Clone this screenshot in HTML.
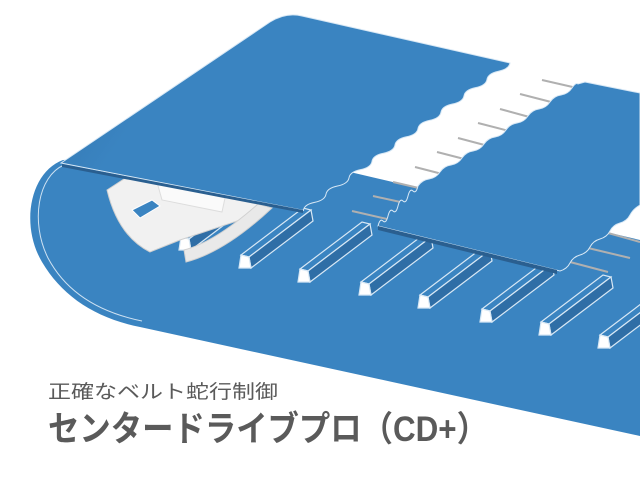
<!DOCTYPE html>
<html><head><meta charset="utf-8"><style>html,body{margin:0;padding:0;background:#fff}svg{display:block}</style></head>
<body>
<svg width="640" height="480" viewBox="0 0 640 480" xmlns="http://www.w3.org/2000/svg">
<defs>
<linearGradient id="tg" x1="0" y1="0" x2="1" y2="0.3">
<stop offset="0" stop-color="#3172ab"/><stop offset="0.3" stop-color="#3a84c1"/><stop offset="1" stop-color="#3a84c1"/>
</linearGradient>
<g id="c" stroke="#d8e8f5" stroke-width="1.2">
<polygon points="-4,-8 4,-6 66,-53 58,-55" fill="#3a84c1"/>
<polygon points="4,-6 6,5 68,-42 66,-53" fill="#2f6ea6"/>
<polygon points="-6,5 -4,-8 4,-6 6,5" fill="#fff"/>
</g>
</defs>
<rect width="640" height="480" fill="#fff"/>
<!-- lower belt -->
<path d="M63,160 C30,172 20,225 42,262 C62,296 95,318 140,327 L640,436 L640,240 L350,172 L250,150 Z" fill="#3a84c1"/>
<path d="M64,165 C38,176 30,222 48,258 C66,292 98,312 142,321" fill="none" stroke="#cfe2f2" stroke-width="1"/>
<!-- rods -->
<g stroke="#b0b0b0" stroke-width="2">
<line x1="542" y1="80" x2="577" y2="88"/><line x1="520" y1="94" x2="555" y2="103"/>
<line x1="500" y1="109" x2="533" y2="118"/><line x1="478" y1="123" x2="513" y2="132"/>
<line x1="458" y1="138" x2="492" y2="147"/><line x1="437" y1="152" x2="472" y2="161"/>
<line x1="415" y1="167" x2="450" y2="176"/>
<line x1="393" y1="182" x2="423" y2="189"/><line x1="373" y1="196" x2="405" y2="203"/>
<line x1="352" y1="211" x2="387" y2="219"/>
<line x1="608" y1="233" x2="640" y2="242"/><line x1="588" y1="248" x2="630" y2="258"/>
<line x1="570" y1="262" x2="608" y2="272"/>
</g>
<!-- cleats -->
<use href="#c" x="245" y="263"/><use href="#c" x="304" y="277"/>
<use href="#c" x="365" y="290"/><use href="#c" x="424" y="303"/>
<use href="#c" x="486" y="317"/><use href="#c" x="545" y="330"/>
<use href="#c" x="604" y="343"/><use href="#c" x="185" y="245"/>
<!-- holder -->
<path d="M107,190 L130,175 L262,205 L258,214 L180,240 L150,252 Q118,236 107,190 Z" fill="#f1f1f1" stroke="#d0d0d0"/>
<path d="M132,210 L152,200 L160,206 L140,218 Z" fill="#3a84c1" stroke="#fff"/>
<path d="M157,182 L225,198 L222,212 L162,200 Z" fill="#fafafa" stroke="#ddd"/>
<path d="M186,262 Q225,252 272,208 L258,204 Q215,242 184,250 Z" fill="#e9e9e9" stroke="#d0d0d0"/>
<!-- middle sheet -->
<path d="M585,82 L640,93 L640,205 q-7,4 -10,10 t-10,8 t-10,8 t-10,8 t-10,8 t-10,8 t-10,8 t-10,8 L378,226 q2,-8 5,-5 t5,-5 t5,-5 t5,-5 t5,-5 t5,-5 t5,-5 t5,-5 q4,-6 11,-7 t11,-7 t11,-7 t11,-7 t11,-7 t11,-7 t11,-7 t11,-7 t11,-7 t11,-7 t11,-7 t11,-7 t11,-7 t11,-7 t6,-4 Z" fill="#3a84c1" stroke="#d8e8f5" stroke-width="1"/>
<path d="M378,226 L557,270 L557,274 L378,230 Z" fill="#2a5f90"/>
<!-- top sheet -->
<path d="M61,163 L270,22 Q286,12 302,16 L510,63 q-1,6 -11.5,8.2 t-11.5,8.2 t-11.5,8.2 t-11.5,8.2 t-11.5,8.2 t-11.5,8.2 t-11.5,8.2 t-11.5,8.2 t-11.5,8.2 t-11.5,8.2 t-11.5,8.2 t-11.5,8.2 t-11.5,8.2 t-11.5,8.2 t-11.5,8.2 t-11.5,8.2 t-11.5,8.2 t-11,8 L61,163 Z" fill="url(#tg)" stroke="#d8e8f5" stroke-width="1"/>
<path d="M62,164 L303,210 L303,213 L62,167 Z" fill="#2a5f90"/>
<!-- text -->
<text x="48" y="398" font-family="'Liberation Sans','Noto Sans CJK JP',sans-serif" font-size="19" fill="#5a5a5a" textLength="230" lengthAdjust="spacingAndGlyphs">正確なベルト蛇行制御</text>
<text x="48" y="441" font-family="'Liberation Sans','Noto Sans CJK JP',sans-serif" font-size="35" font-weight="bold" fill="#5a5a5a" textLength="440" lengthAdjust="spacingAndGlyphs">センタードライブプロ（CD+）</text>
</svg>
</body></html>
